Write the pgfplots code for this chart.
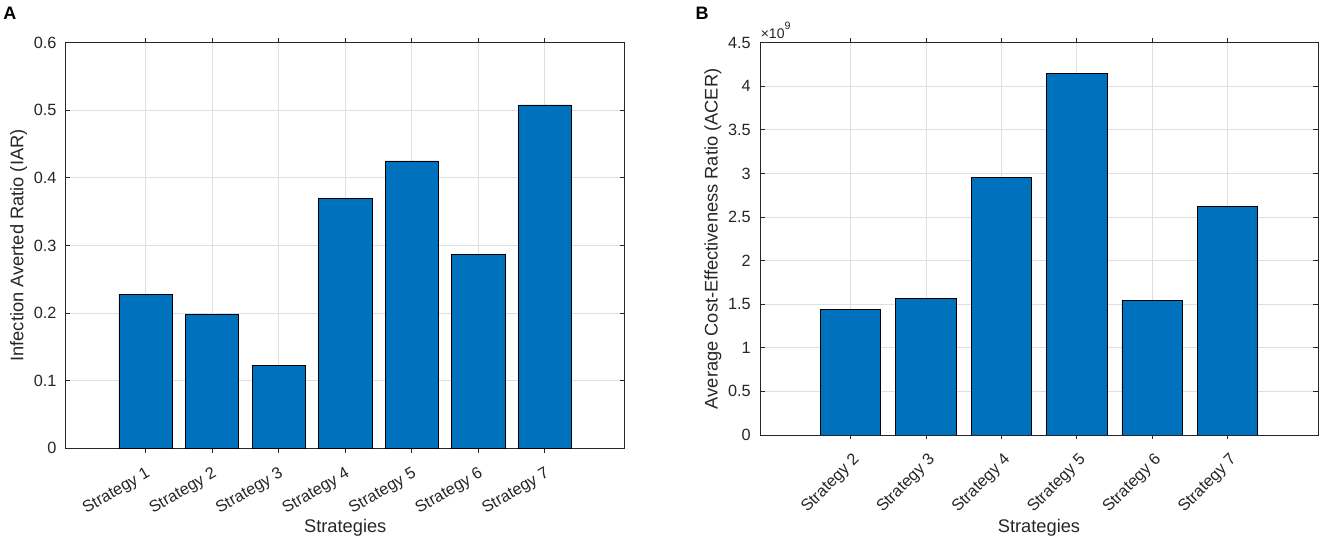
\documentclass[border=0pt]{standalone}
\usepackage{fontspec}
\setmainfont{Liberation Sans}
\usepackage{pgfplots}
\pgfplotsset{compat=1.18}
\definecolor{mblue}{HTML}{0072BD}
\definecolor{axc}{HTML}{262626}
\definecolor{gridc}{HTML}{DFDFDF}
\pgfplotsset{
  mstyle/.style={
    scale only axis,
    axis line style={axc, line width=0.6pt},
    major tick style={axc, line width=0.6pt},
    major tick length=3.4pt,
    tick align=inside,
    xtick pos=both, ytick pos=both,
    grid=major,
    major grid style={gridc, line width=0.6pt},
    ticklabel style={font=\fontsize{12.2}{14}\selectfont, text=axc},
    label style={font=\fontsize{13.7}{16}\selectfont, text=axc},
    /pgf/number format/assume math mode=true,
    yticklabel style={inner sep=0pt, xshift=-6.75pt},
    ymin=0,
    ybar, bar width=0.8,
  }
}
\begin{document}
\begin{tikzpicture}
\path[use as bounding box] (0,0) rectangle (993.75pt,-407.25pt);
\node[anchor=north west, inner sep=0pt, font=\bfseries\fontsize{13.5}{15}\selectfont] at (2.4pt,-5.2pt) {A};
\node[anchor=north west, inner sep=0pt, font=\bfseries\fontsize{13.5}{15}\selectfont] at (521.5pt,-5.2pt) {B};
\begin{axis}[mstyle,
  anchor=north west, at={(49.3pt,-32pt)},
  width=419.25pt, height=304.2pt,
  xmin=-0.2, xmax=8.2, ymax=0.6,
  xtick={1,2,3,4,5,6,7},
  xticklabels={Strategy 1,Strategy 2,Strategy 3,Strategy 4,Strategy 5,Strategy 6,Strategy 7},
  xticklabel style={inner sep=0pt, xshift=2.5pt, yshift=-15pt, rotate=30, anchor=east},
  ytick={0,0.1,0.2,0.3,0.4,0.5,0.6},
  yticklabels={0,0.1,0.2,0.3,0.4,0.5,0.6},
  xlabel={Strategies},
  ylabel={Infection Averted Ratio (IAR)},
  xlabel style={at={(axis description cs:0.5,-0.1956)}, anchor=center},
  ylabel style={at={(axis description cs:-0.0843,0.5)}, anchor=center},
]
\addplot[fill=mblue, draw=black, line width=0.5pt] coordinates {
  (1,0.228) (2,0.198) (3,0.123) (4,0.369) (5,0.425) (6,0.287) (7,0.508)
};
\end{axis}
\begin{axis}[mstyle, name=B,
  anchor=north west, at={(570pt,-32pt)},
  width=418.5pt, height=294.2pt,
  xmin=0.8, xmax=8.2, ymax=4.5e9,
  scaled y ticks=false,
  xtick={2,3,4,5,6,7},
  xticklabels={Strategy 2,Strategy 3,Strategy 4,Strategy 5,Strategy 6,Strategy 7},
  xticklabel style={inner sep=0pt, xshift=5pt, yshift=-13.5pt, rotate=45, anchor=east},
  ytick={0,0.5e9,1e9,1.5e9,2e9,2.5e9,3e9,3.5e9,4e9,4.5e9},
  yticklabels={0,0.5,1,1.5,2,2.5,3,3.5,4,4.5},
  xlabel={Strategies},
  ylabel={Average Cost-Effectiveness Ratio (ACER)},
  xlabel style={at={(axis description cs:0.5,-0.237)}, anchor=center},
  ylabel style={at={(axis description cs:-0.0842,0.5)}, anchor=center},
]
\addplot[fill=mblue, draw=black, line width=0.5pt] coordinates {
  (2,1.44e9) (3,1.566e9) (4,2.95e9) (5,4.15e9) (6,1.546e9) (7,2.62e9)
};
\end{axis}
\node[anchor=south west, inner sep=0pt, text=axc, font=\fontsize{10.5}{12}\selectfont] at ([xshift=0.4pt,yshift=2.8pt]B.north west) {×10\raisebox{6.8pt}{\fontsize{8}{9}\selectfont 9}};
\end{tikzpicture}
\end{document}
